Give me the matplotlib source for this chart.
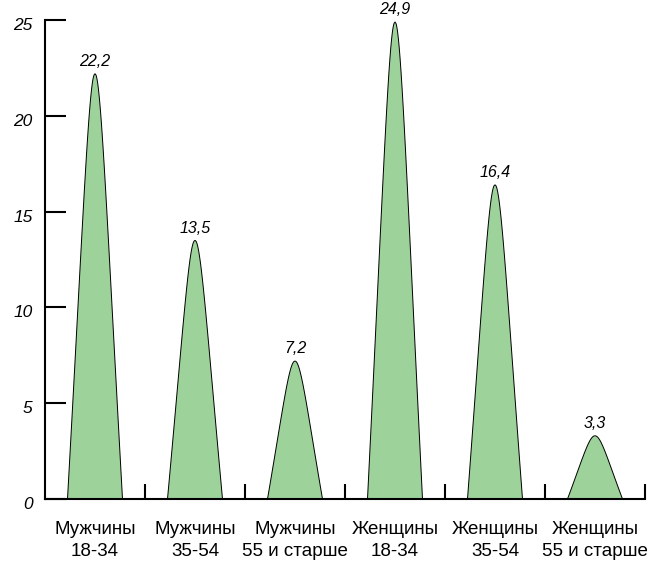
import numpy as np
import matplotlib

matplotlib.use("Agg")

import matplotlib.pyplot as plt
import matplotlib.transforms as mtransforms

groups = ["Мужчины\n18-34", "Мужчины\n35-54", "Мужчины\n55 и старше",
          "Женщины\n18-34", "Женщины\n35-54", "Женщины\n55 и старше"]
shares = [22.2, 13.5, 7.2, 24.9, 16.4, 3.3]
value_labels = ["22,2", "13,5", "7,2", "24,9", "16,4", "3,3"]
y_ticks = [0, 5, 10, 15, 20, 25]

FILL = "#9dd29b"
PEAK_WIDTH = 0.55


def peak_outline(center, height, width=PEAK_WIDTH, n=300):
    # nearly straight sides closing into a rounded tip
    t = np.linspace(0, 1, n)
    half = width / 2 * np.sqrt(1 - t) * (1 - 0.36 * t)
    xs = np.concatenate([center - half, (center + half)[::-1]])
    ys = np.concatenate([t * height, (t * height)[::-1]])
    return xs, ys


plt.rcParams.update({"font.family": ["Liberation Sans", "DejaVu Sans"]})

fig = plt.figure(figsize=(6.66, 5.62), dpi=100)
ax = fig.add_axes([45 / 666, 1 - 499 / 562, 600 / 666, 479 / 562])

for i, (h, lab) in enumerate(zip(shares, value_labels)):
    xs, ys = peak_outline(i + 0.5, h)
    ax.fill(xs, ys, facecolor=FILL, edgecolor="black", linewidth=0.7, zorder=2)
    ax.text(i + 0.5, h + 0.25, lab, ha="center", va="bottom",
            fontsize=11.5, style="italic", zorder=4)

ax.set_xlim(0, len(groups))
ax.set_ylim(0, 25)

for side in ("top", "right"):
    ax.spines[side].set_visible(False)
for side in ("left", "bottom"):
    ax.spines[side].set_linewidth(1.5)

# y ticks point inwards; their numbers sit a little below each tick
ax.set_yticks(y_ticks)
ax.set_yticklabels([])
ax.tick_params(axis="y", direction="in", length=15, width=1.5)
ylab_tf = ax.get_yaxis_transform() + mtransforms.ScaledTranslation(
    -9 / 72, -4 / 72, fig.dpi_scale_trans)
for t in y_ticks:
    ax.text(0, t, str(t), transform=ylab_tf, ha="right", va="center",
            fontsize=12.5, style="italic")

# group boundaries as major ticks, names centred on minor ticks
ax.set_xticks(np.arange(1, len(groups) + 1))
ax.set_xticklabels([])
ax.tick_params(axis="x", which="major", direction="in", length=11, width=1.5)
ax.set_xticks(np.arange(len(groups)) + 0.5, minor=True)
ax.set_xticklabels(groups, minor=True, fontsize=13.5, linespacing=1.35)
ax.tick_params(axis="x", which="minor", length=0, pad=16)

fig.savefig("out.png", dpi=100)
